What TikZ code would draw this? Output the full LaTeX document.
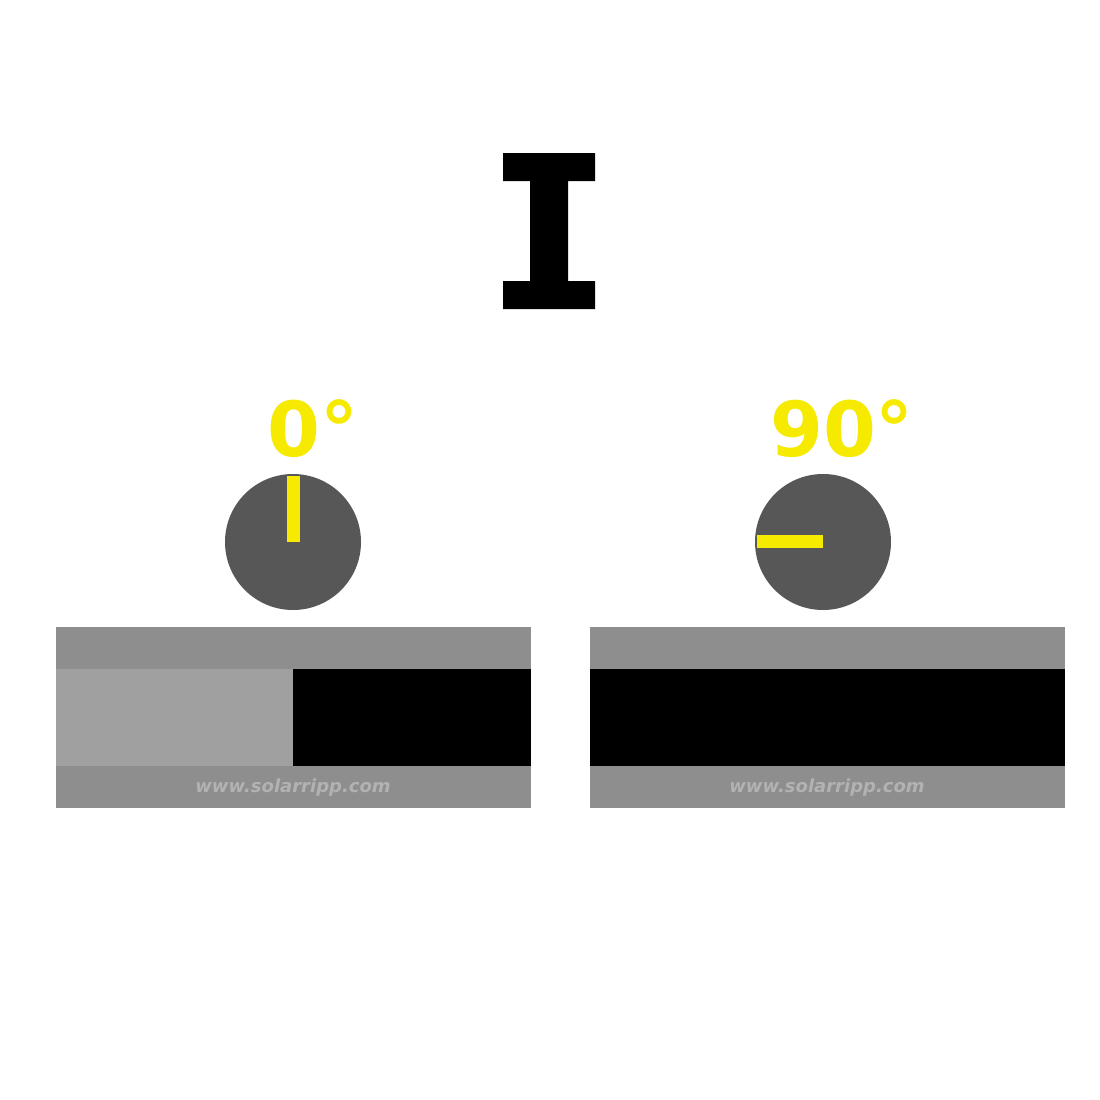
\documentclass[tikz,border=0pt]{standalone}
\usepackage{fontspec}
\setmainfont{DejaVu Sans}
\definecolor{band}{HTML}{8E8E8E}
\definecolor{lightband}{HTML}{A0A0A0}
\definecolor{knob}{HTML}{575757}
\definecolor{yel}{HTML}{F5EA00}
\definecolor{wm}{HTML}{B2B2B2}
\begin{document}
\begin{tikzpicture}[x=1pt,y=-1pt,
  bandbox/.style={fill=band,draw=none},
  knobdisc/.style={circle,fill=knob,minimum size=136pt,inner sep=0pt},
  angle/.style={text=yel,font=\fontsize{76}{76}\selectfont\bfseries,inner sep=0pt},
  watermark/.style={text=wm,font=\fontsize{18}{18}\selectfont\bfseries\itshape,inner sep=0pt}]
\useasboundingbox[fill=white] (0,0) rectangle (1100,1100);
% I symbol
\fill[black] (503,153) -- (595,153) -- (595,181) -- (568,181) -- (568,281) -- (595,281) -- (595,309) -- (503,309) -- (503,281) -- (530,281) -- (530,181) -- (503,181) -- cycle;
% labels
\node[angle] (l0) at (313,429) {0°};
\node[angle] (l90) at (842,429) {90°};
% knobs
\node[knobdisc] (k1) at (293,542) {};
\fill[yel] (287,476) rectangle (300,542);
\node[knobdisc] (k2) at (823,542) {};
\fill[yel] (757,535) rectangle (823,548);
% left panel
\fill[band] (56,627) rectangle (531,808);
\fill[lightband] (56,669) rectangle (293,766);
\fill[black] (293,669) rectangle (531,766);
\node[watermark] (w1) at (293,788) {www.solarripp.com};
% right panel
\fill[band] (590,627) rectangle (1065,808);
\fill[black] (590,669) rectangle (1065,766);
\node[watermark] (w2) at (827,788) {www.solarripp.com};
\end{tikzpicture}
\end{document}
